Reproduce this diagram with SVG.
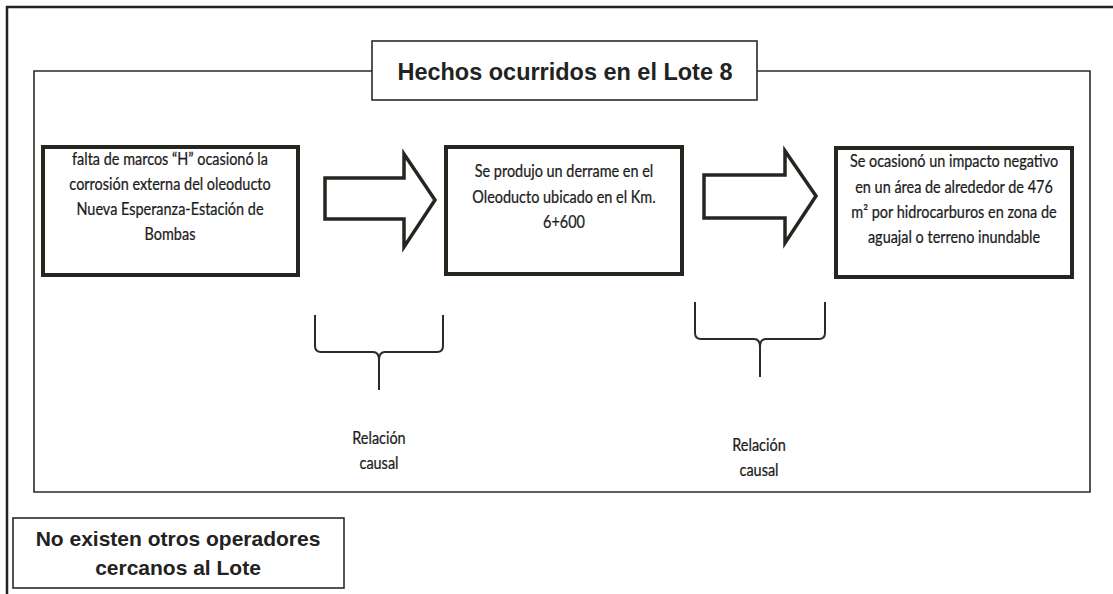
<svg xmlns="http://www.w3.org/2000/svg" width="1113" height="594" viewBox="0 0 1113 594">
<style>
.frame{fill:none;stroke:#222;stroke-width:2.5}
.inner{fill:none;stroke:#2a2a2a;stroke-width:1.6}
.box{fill:#fff;stroke:#262620;stroke-width:4}
.lbox{fill:#fff;stroke:#2a2a2a;stroke-width:1.6}
.arrow{fill:#fff;stroke:#262620;stroke-width:3.5;stroke-linejoin:miter}
.brace{fill:none;stroke:#2a2a2a;stroke-width:2}
.t{font-family:Lato,"Open Sans",sans-serif;font-size:17px;fill:#1c1c1c;stroke:#1c1c1c;stroke-width:0.25;text-anchor:middle}
.title{font-family:"Liberation Sans",Arial,sans-serif;font-size:24px;font-weight:bold;fill:#222;text-anchor:middle}
.note{font-family:"Liberation Sans",Arial,sans-serif;font-size:21px;font-weight:bold;fill:#222;text-anchor:middle}
</style>
<rect width="1113" height="594" fill="#fff"/>
<g id="outer-frame">
<path class="frame" d="M7,594 L7,7 L1113,7"/>
</g>
<g id="inner-frame">
<path class="inner" d="M372,71 L34,71 L34,492 L1090,492 L1090,71 L757,71"/>
</g>
<g id="title">
<rect class="lbox" x="372" y="41" width="385" height="59"/>
<text class="title" x="565" y="80" textLength="335" lengthAdjust="spacingAndGlyphs">Hechos ocurridos en el Lote 8</text>
</g>
<g id="box1">
<rect class="box" x="43" y="147" width="255" height="128"/>
<g transform="matrix(0.85,0,0,1,25.5,0)">
<text class="t" x="170" y="165">falta de marcos “H” ocasionó la</text>
<text class="t" x="170" y="190">corrosión externa del oleoducto</text>
<text class="t" x="170" y="215">Nueva Esperanza-Estación de</text>
<text class="t" x="170" y="240">Bombas</text>
</g>
</g>
<g id="box2">
<rect class="box" x="446" y="147" width="236" height="127"/>
<g transform="matrix(0.85,0,0,1,84.6,0)">
<text class="t" x="564" y="177">Se produjo un derrame en el</text>
<text class="t" x="564" y="203">Oleoducto ubicado en el Km.</text>
<text class="t" x="564" y="228">6+600</text>
</g>
</g>
<g id="box3">
<rect class="box" x="836" y="148" width="236" height="129"/>
<g transform="matrix(0.85,0,0,1,143.1,0)">
<text class="t" x="954" y="167">Se ocasionó un impacto negativo</text>
<text class="t" x="954" y="193">en un área de alrededor de 476</text>
<text class="t" x="954" y="218">m² por hidrocarburos en zona de</text>
<text class="t" x="954" y="243">aguajal o terreno inundable</text>
</g>
</g>
<g id="connectors">
<polygon class="arrow" points="325,178 404,178 404,154 435,200 404,247 404,219 325,219"/>
<polygon class="arrow" points="704,175 785,175 785,151 816,196 785,243 785,218 704,218"/>
<path class="brace" d="M315,315 L315,346 Q315,352 321,352 L373,352 Q379,352 379,360 L379,390 M379,360 Q379,352 385,352 L437,352 Q443,352 443,346 L443,315"/>
<path class="brace" d="M695,302 L695,333 Q695,339 701,339 L754,339 Q760,339 760,347 L760,377 M760,347 Q760,339 766,339 L819,339 Q825,339 825,333 L825,302"/>
</g>
<g id="label1">
<g transform="matrix(0.85,0,0,1,56.85,0)">
<text class="t" x="379" y="444">Relación</text>
<text class="t" x="379" y="469">causal</text>
</g>
</g>
<g id="label2">
<g transform="matrix(0.85,0,0,1,113.85,0)">
<text class="t" x="759" y="451">Relación</text>
<text class="t" x="759" y="476">causal</text>
</g>
</g>
<g id="note">
<rect class="lbox" x="13" y="518" width="331" height="70"/>
<text class="note" x="178" y="546">No existen otros operadores</text>
<text class="note" x="178" y="575">cercanos al Lote</text>
</g>
</svg>
